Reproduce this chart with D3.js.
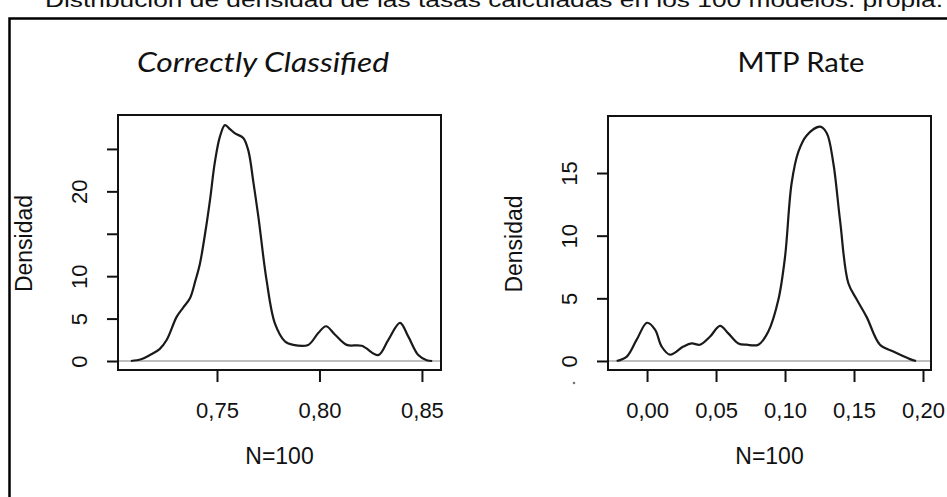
<!DOCTYPE html>
<html>
<head>
<meta charset="utf-8">
<script src="https://cdn.jsdelivr.net/npm/d3@7"></script>
<style>
  body { margin: 0; background: #fff; }
  text { fill: #111; }
</style>
</head>
<body>
<div id="chart"></div>
<script>
// Data

var captionText = "Distribución de densidad de las tasas calculadas en los 100 modelos. propia.";

// panel 1: Correctly Classified
var ccTitle = "Correctly Classified";
var ccX = [0.708, 0.713, 0.7173, 0.722, 0.7255, 0.7303, 0.7335, 0.7368, 0.7395, 0.7417, 0.7445, 0.7466, 0.749, 0.7515, 0.7539, 0.7565, 0.759, 0.7628, 0.7653, 0.7678, 0.7702, 0.7742, 0.7783, 0.7832, 0.7872, 0.7945, 0.7994, 0.8032, 0.8076, 0.8133, 0.8206, 0.8287, 0.8336, 0.8393, 0.8433, 0.8482, 0.8523, 0.855];
var ccY = [0, 0.2, 0.7, 1.4, 2.5, 5.2, 6.3, 7.4, 9.5, 11.5, 15.5, 19, 23.5, 26.5, 27.8, 27.3, 26.8, 26.3, 24.8, 21, 17, 9.5, 4.4, 2.3, 1.9, 1.9, 3.3, 4.1, 3.1, 1.9, 1.8, 0.7, 2.5, 4.5, 2.9, 0.7, 0.1, 0];
var ccXTicks = [0.75, 0.80, 0.85];
var ccXLabels = ["0,75", "0,80", "0,85"];
var ccYTicks = [0, 5, 10, 15, 20, 25];
var ccYLabels = ["0", "5", "10", "", "20", ""];

// panel 2: MTP Rate
var mtpTitle = "MTP Rate";
var mtpX = [-0.022, -0.0147, -0.0075, 0.0, 0.0058, 0.0106, 0.0167, 0.0263, 0.0324, 0.0384, 0.0457, 0.0529, 0.0589, 0.0662, 0.0722, 0.0807, 0.0879, 0.0952, 0.1, 0.1048, 0.1097, 0.1157, 0.1254, 0.1302, 0.135, 0.1399, 0.1459, 0.152, 0.1592, 0.1688, 0.1785, 0.1906, 0.195];
var mtpY = [0, 0.35, 1.7, 3.05, 2.5, 1.15, 0.5, 1.15, 1.4, 1.3, 1.95, 2.8, 2.2, 1.4, 1.3, 1.3, 2.35, 4.9, 8.3, 14.2, 16.7, 18.0, 18.7, 18.2, 15.8, 11.2, 6.2, 4.9, 3.5, 1.3, 0.75, 0.15, 0];
var mtpXTicks = [0.00, 0.05, 0.10, 0.15, 0.20];
var mtpXLabels = ["0,00", "0,05", "0,10", "0,15", "0,20"];
var mtpYTicks = [0, 5, 10, 15];
var mtpYLabels = ["0", "5", "10", "15"];

var yLabel = "Densidad";
var xLabel = "N=100";

var svgWidth = 947;
var svgHeight = 497;

var svg = d3.select("#chart").append("svg")
	.attr("width", svgWidth)
	.attr("height", svgHeight);

// caption cut off at the top of the picture
svg.append("text")
	.attr("x", 45)
	.attr("y", 7)
	.attr("font-family", "Liberation Sans, Arial, sans-serif")
	.attr("font-size", 21)
	.attr("textLength", 898)
	.attr("lengthAdjust", "spacingAndGlyphs")
	.text(captionText);

// outer frame
svg.append("rect")
	.attr("x", 9.5)
	.attr("y", 18.5)
	.attr("width", 960)
	.attr("height", 520)
	.attr("fill", "none")
	.attr("stroke", "#000")
	.attr("stroke-width", 2.5);

var panels = [
	{
		title: ccTitle, italic: true, titleX: 263, titleLen: 252,
		xs: ccX, ys: ccY,
		xTicks: ccXTicks, xLabels: ccXLabels, yTicks: ccYTicks, yLabels: ccYLabels,
		left: 118, right: 441, top: 115, bottom: 370,
		xDomain: [0.7017, 0.8593], yDomain: [-1.06, 29.0]
	},
	{
		title: mtpTitle, italic: false, titleX: 801, titleLen: 127,
		xs: mtpX, ys: mtpY,
		xTicks: mtpXTicks, xLabels: mtpXLabels, yTicks: mtpYTicks, yLabels: mtpYLabels,
		left: 608, right: 931, top: 116, bottom: 370,
		xDomain: [-0.0283, 0.2058], yDomain: [-0.72, 19.55]
	}
];

panels.forEach(function(p, k) {

	var x = d3.scaleLinear().domain(p.xDomain).range([p.left, p.right]);
	var y = d3.scaleLinear().domain(p.yDomain).range([p.bottom, p.top]);

	var g = svg.append("g");

	// title
	g.append("text")
		.attr("x", p.titleX)
		.attr("y", 72)
		.attr("text-anchor", "middle")
		.attr("font-family", "Lato, Carlito, sans-serif")
		.attr("font-style", p.italic ? "italic" : "normal")
		.attr("font-size", 27)
		.attr("textLength", p.titleLen)
		.attr("lengthAdjust", "spacingAndGlyphs")
		.text(p.title);

	// zero line
	g.append("line")
		.attr("x1", p.left)
		.attr("x2", p.right)
		.attr("y1", y(0))
		.attr("y2", y(0))
		.attr("stroke", "#aaa")
		.attr("stroke-width", 1.5);

	// density curve
	var pts = p.xs.map(function(v, i) { return [v, p.ys[i]]; });
	var line = d3.line()
		.x(d => x(d[0]))
		.y(d => y(d[1]))
		.curve(d3.curveCatmullRom.alpha(0.5));

	g.append("path")
		.datum(pts)
		.attr("d", line)
		.attr("fill", "none")
		.attr("stroke", "#1a1a1a")
		.attr("stroke-width", 2.2);

	// axes
	var bottomAxis = d3.axisBottom(x)
		.tickValues(p.xTicks)
		.tickSize(12)
		.tickFormat((d, i) => p.xLabels[i]);

	var xAxis = g.append("g")
		.attr("transform", `translate(0, ${p.bottom})`)
		.call(bottomAxis);
	xAxis.select(".domain").remove();
	xAxis.selectAll("line").attr("stroke", "#111").attr("stroke-width", 2);
	xAxis.selectAll("text")
		.attr("y", 48)
		.attr("dy", 0)
		.attr("font-family", "Liberation Sans, Arial, sans-serif")
		.attr("font-size", 22)
		.attr("fill", "#111");

	var leftAxis = d3.axisLeft(y)
		.tickValues(p.yTicks)
		.tickSize(11)
		.tickFormat((d, i) => p.yLabels[i]);

	var yAxis = g.append("g")
		.attr("transform", `translate(${p.left}, 0)`)
		.call(leftAxis);
	yAxis.select(".domain").remove();
	yAxis.selectAll("line").attr("stroke", "#111").attr("stroke-width", 2);
	yAxis.selectAll("text")
		.attr("x", 0)
		.attr("dy", 0)
		.attr("transform", "translate(-31, 0) rotate(-90)")
		.attr("text-anchor", "middle")
		.attr("font-family", "Liberation Sans, Arial, sans-serif")
		.attr("font-size", 22)
		.attr("fill", "#111");

	// small stray mark under the right panel's zero label
	if (k === 1) {
		g.append("circle")
			.attr("cx", p.left - 34)
			.attr("cy", y(0) + 22)
			.attr("r", 1.3)
			.attr("fill", "#777");
	}

	// box
	g.append("rect")
		.attr("x", p.left)
		.attr("y", p.top)
		.attr("width", p.right - p.left)
		.attr("height", p.bottom - p.top)
		.attr("fill", "none")
		.attr("stroke", "#111")
		.attr("stroke-width", 2);

	// axis titles
	g.append("text")
		.attr("transform", `translate(${p.left - 86}, ${(p.top + p.bottom) / 2 + 1}) rotate(-90)`)
		.attr("text-anchor", "middle")
		.attr("font-family", "Liberation Sans, Arial, sans-serif")
		.attr("font-size", 23)
		.text(yLabel);

	g.append("text")
		.attr("x", (p.left + p.right) / 2)
		.attr("y", 464)
		.attr("text-anchor", "middle")
		.attr("font-family", "Liberation Sans, Arial, sans-serif")
		.attr("font-size", 23)
		.text(xLabel);
});
</script>
</body>
</html>
